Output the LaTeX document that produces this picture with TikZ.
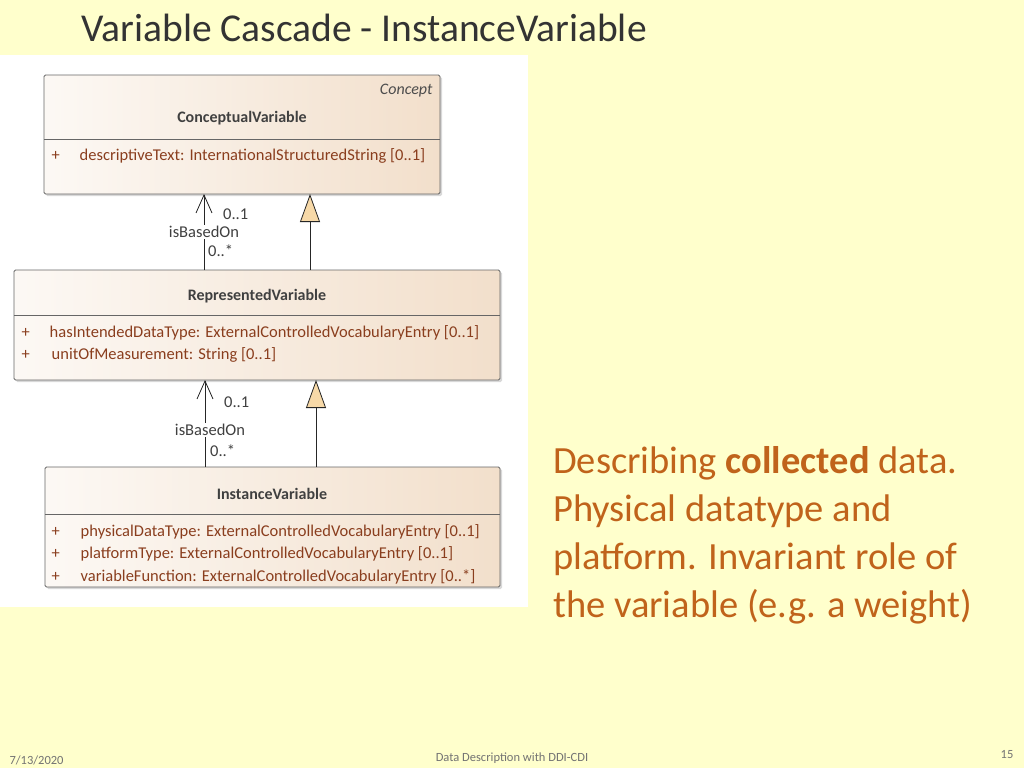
\documentclass[tikz,border=0pt]{standalone}
\usepackage{fontspec}
\setmainfont{Carlito}
\usetikzlibrary{shadows,arrows.meta}
\definecolor{bg}{HTML}{FFFFCC}
\definecolor{attr}{HTML}{8A3E1E}
\definecolor{orng}{HTML}{C0631B}
\definecolor{peach}{HTML}{F2DFCB}
\definecolor{triF}{HTML}{F7D9A8}
\tikzset{
 cls/.style={draw=black!60, line width=0.8pt, rounded corners=1.5pt, left color=white!80!peach, right color=peach, drop shadow={shadow xshift=2pt,shadow yshift=-2pt,fill=black!30}},
 div/.style={draw=black!60, line width=0.8pt},
 ttl/.style={font=\fontsize{16}{18}\selectfont\bfseries, text=black!75},
 att/.style={font=\fontsize{16.5}{18}\selectfont, text=attr, anchor=west},
 lbl/.style={font=\fontsize{16.5}{18}\selectfont, text=black!75, inner sep=1pt},
 assoc/.style={draw=black!85, line width=0.8pt, -{Straight Barb[length=18pt,width=16pt]}},
 gen/.style={draw=black!85, line width=0.8pt, -{Triangle[open,length=28pt,width=20pt,fill=triF]}}
}
\begin{document}
\begin{tikzpicture}[x=1pt,y=-1pt]
\fill[bg] (0,0) rectangle (1024,768);
\useasboundingbox (0,0) rectangle (1024,768);
\node[anchor=west, font=\fontsize{39.5}{46}\selectfont, text=black!80] (title) at (78,28) {Variable Cascade - InstanceVariable};
\fill[white] (0,55) rectangle (528,607);
% Conceptual
\path[cls] (44,75) rectangle (440,194);
\coordinate (cvb) at (204,194); \coordinate (cvg) at (310,194);
\draw[div] (44,139) -- (440,139);
\node[anchor=east, font=\fontsize{16}{18}\selectfont\itshape, text=black!70] (cvs) at (436,91) {Concept};
\node[ttl] (cv) at (242,118) {ConceptualVariable};
\node[att] (cva) at (48,156) {+\hspace{20pt}descriptiveText: InternationalStructuredString [0..1]};
% Represented
\path[cls] (14,270) rectangle (500,380);
\draw[div] (14,315) -- (500,315);
\node[ttl] (rv) at (257,296) {RepresentedVariable};
\node[att] (rva1) at (18,333) {+\hspace{20pt}hasIntendedDataType: ExternalControlledVocabularyEntry [0..1]};
\node[att] (rva2) at (18,355) {+\hspace{22pt}unitOfMeasurement: String [0..1]};
% Instance
\path[cls] (45,467) rectangle (500,587);
\draw[div] (45,514) -- (500,514);
\node[ttl] (iv) at (272,494) {InstanceVariable};
\node[att] (iva1) at (48,532) {+\hspace{21pt}physicalDataType: ExternalControlledVocabularyEntry [0..1]};
\node[att] (iva2) at (48,554) {+\hspace{21pt}platformType: ExternalControlledVocabularyEntry [0..1]};
\node[att] (iva3) at (48,577) {+\hspace{21pt}variableFunction: ExternalControlledVocabularyEntry [0..*]};
% connectors
\coordinate (rvt) at (204,270); \coordinate (rvg) at (310,270);
\coordinate (rvb) at (205,380); \coordinate (rvg2) at (316,380);
\coordinate (ivt) at (205,467); \coordinate (ivg) at (316,467);
\draw[assoc] (rvt) -- (cvb);
\draw[gen] (rvg) -- (cvg);
\draw[assoc] (ivt) -- (rvb);
\draw[gen] (ivg) -- (rvg2);
\node[lbl, anchor=west] (m1) at (222,214) {0..1};
\node[lbl, fill=white] (n1) at (204,232) {isBasedOn};
\node[lbl, anchor=west] (k1) at (207,251) {0..*};
\node[lbl, anchor=west] (m2) at (223,402) {0..1};
\node[lbl, fill=white] (n2) at (210,430) {isBasedOn};
\node[lbl, anchor=west] (k2) at (209,451) {0..*};
% right text
\node[anchor=north west, align=left, text=orng, font=\fontsize{38.5}{48}\selectfont, inner sep=0pt] (desc) at (553,446) {Describing \textbf{collected} data.\\Physical datatype and\\platform. Invariant role of\\the variable (e.g. a weight)};
% footer
\node[anchor=west, font=\fontsize{12.5}{14}\selectfont, text=black!55] (date) at (6,760) {7/13/2020};
\node[font=\fontsize{12.5}{14}\selectfont, text=black!55] (foot) at (512,758) {Data Description with DDI-CDI};
\node[font=\fontsize{12.5}{14}\selectfont, text=black!55] (pg) at (1007,755) {15};
\end{tikzpicture}
\end{document}
